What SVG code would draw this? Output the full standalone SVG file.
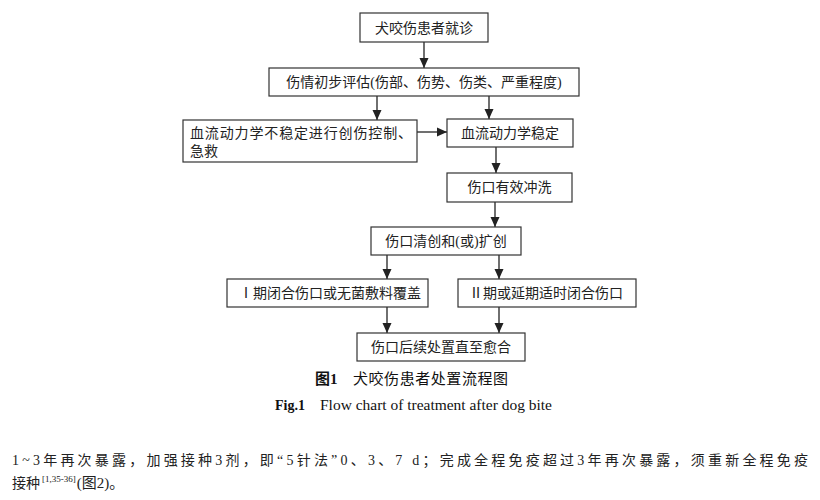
<svg xmlns="http://www.w3.org/2000/svg" width="820" height="500" viewBox="0 0 820 500">
<style>
.box{fill:#fff;stroke:#333;stroke-width:1.2}
.t{font-family:"Liberation Serif","Noto Sans CJK SC",serif;font-size:14px;fill:#222}
.c{text-anchor:middle;dominant-baseline:central}
.cap{font-family:"Liberation Serif","Noto Sans CJK SC",serif;fill:#111}
.body{font-family:"Liberation Serif","Noto Sans CJK SC",serif;font-size:14px;fill:#222}
.ln{stroke:#222;stroke-width:1.3;fill:none;marker-end:url(#ah)}
</style>
<defs>
<marker id="ah" markerUnits="userSpaceOnUse" markerWidth="10" markerHeight="10" viewBox="0 0 10 10" refX="10" refY="5" orient="auto">
<path d="M0,0.5 L10,5 L0,9.5 Z" fill="#222"/>
</marker>
</defs>
<rect width="820" height="500" fill="#fff"/>
<g id="connectors">
<line class="ln" x1="424" y1="42" x2="424" y2="68"/>
<line class="ln" x1="377" y1="96" x2="377" y2="120"/>
<line class="ln" x1="489" y1="96" x2="489" y2="119"/>
<line class="ln" x1="417" y1="132" x2="447" y2="132"/>
<line class="ln" x1="496" y1="147" x2="496" y2="173"/>
<line class="ln" x1="495" y1="202" x2="495" y2="227"/>
<line class="ln" x1="387" y1="255" x2="387" y2="279"/>
<line class="ln" x1="499" y1="255" x2="499" y2="279"/>
<line class="ln" x1="387" y1="307" x2="387" y2="333"/>
<line class="ln" x1="499" y1="307" x2="499" y2="333"/>
</g>
<g id="n1"><rect class="box" x="360" y="13" width="128" height="29"/><text class="t c" x="424" y="28">犬咬伤患者就诊</text></g>
<g id="n2"><rect class="box" x="269" y="68" width="310" height="28"/><text class="t c" x="424" y="82">伤情初步评估(伤部、伤势、伤类、严重程度)</text></g>
<g id="n3"><rect class="box" x="183" y="120" width="234" height="42"/><text class="t" x="190" y="138" textLength="222" lengthAdjust="spacing">血流动力学不稳定进行创伤控制、</text><text class="t" x="190" y="156">急救</text></g>
<g id="n4"><rect class="box" x="447" y="119" width="126" height="28"/><text class="t c" x="510" y="133">血流动力学稳定</text></g>
<g id="n5"><rect class="box" x="447" y="173" width="125" height="29"/><text class="t c" x="509.5" y="187.5">伤口有效冲洗</text></g>
<g id="n6"><rect class="box" x="371" y="227" width="150" height="28"/><text class="t c" x="446" y="241">伤口清创和(或)扩创</text></g>
<g id="n7"><rect class="box" x="227" y="279" width="201" height="28"/><text class="t c" x="330" y="293">Ⅰ期闭合伤口或无菌敷料覆盖</text></g>
<g id="n8"><rect class="box" x="458" y="279" width="178" height="28"/><text class="t c" x="546" y="293">Ⅱ期或延期适时闭合伤口</text></g>
<g id="n9"><rect class="box" x="357" y="333" width="168" height="28"/><text class="t c" x="441" y="347">伤口后续处置直至愈合</text></g>
<g id="caption">
<text class="cap" x="315" y="384" font-size="15" font-weight="bold">图1</text>
<text class="cap" x="353" y="384" font-size="15" textLength="155" lengthAdjust="spacing">犬咬伤患者处置流程图</text>
<text class="cap" x="275" y="410" font-size="14" font-weight="bold">Fig.1</text>
<text class="cap" x="320" y="410" font-size="14" textLength="232" lengthAdjust="spacingAndGlyphs">Flow chart of treatment after dog bite</text>
</g>
<g id="bodytext">
<text class="body" x="12" y="465" textLength="796" lengthAdjust="spacing">1~3年再次暴露，加强接种3剂，即“5针法”0、3、7 d；完成全程免疫超过3年再次暴露，须重新全程免疫</text>
<text class="body" x="12" y="488">接种<tspan font-size="9" dy="-6" dx="2">[1,35-36]</tspan><tspan dy="6" dx="1" font-size="15">(图2)。</tspan></text>
</g>
</svg>
